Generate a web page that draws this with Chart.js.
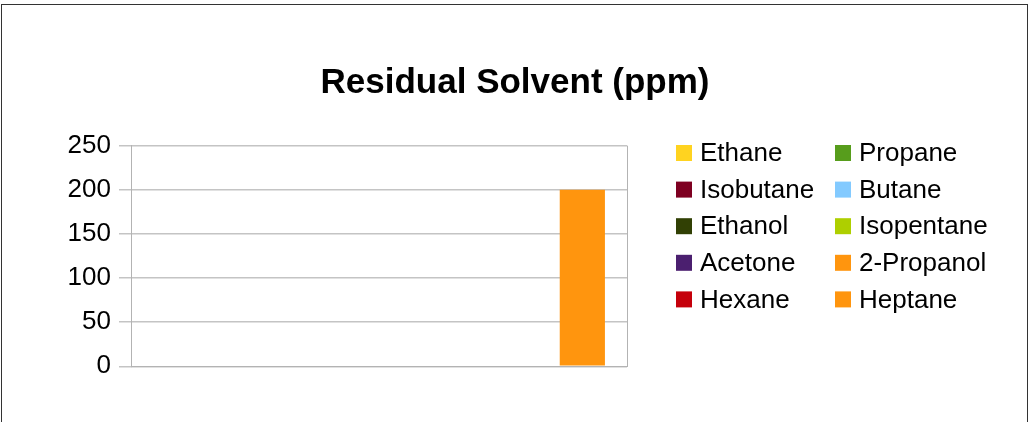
<!DOCTYPE html>
<html><head><meta charset="utf-8">
<script src="https://cdn.jsdelivr.net/npm/chart.js@4.4.0/dist/chart.umd.min.js"></script>
<style>
html,body{margin:0;padding:0;background:#fff;}
#wrap{position:relative;width:1030px;height:422px;overflow:hidden;background:#fff;}
#frame{position:absolute;left:1px;top:4px;width:1025px;height:480px;border:1px solid #333;pointer-events:none;}
canvas{position:absolute;left:0;top:0;}
</style></head><body>
<div id="wrap"><canvas id="c" width="1030" height="422"></canvas><div id="frame"></div></div>
<script>
// ---- data ----
const categories = [''];
const seriesNames = ['Ethane','Propane','Isobutane','Butane','Ethanol','Isopentane','Acetone','2-Propanol','Hexane','Heptane'];
const seriesValues = [0, 0, 0, 0, 0, 0, 0, 0, 0, 200];
const seriesColors = ['#ffd320','#579d1c','#7e0021','#83caff','#314004','#aecf00','#4b1f6f','#ff950e','#c5000b','#ff950e'];
const yTicks = [0, 50, 100, 150, 200, 250];
const titleText = 'Residual Solvent (ppm)';

const FONT = "'Liberation Sans', Arial, sans-serif";

const datasets = seriesNames.map((n, i) => ({
  label: n,
  data: [seriesValues[i]],
  backgroundColor: seriesColors[i],
  borderWidth: 0,
  categoryPercentage: 0.911,
  barPercentage: 1.0
}));

const decorPlugin = {
  id: 'decor',
  afterDraw(chart) {
    const ctx = chart.ctx;
    const ds = chart.data.datasets;
    ctx.save();
    // title, centred on the whole canvas
    ctx.font = 'bold 35px ' + FONT;
    ctx.fillStyle = '#000';
    ctx.textAlign = 'center';
    ctx.textBaseline = 'alphabetic';
    ctx.fillText(titleText, chart.width / 2, 93);
    // legend, two columns, row-major order
    const colX = [676, 835];
    const rowY0 = 153, rowStep = 36.6, box = 16;
    ctx.font = '26px ' + FONT;
    ctx.textBaseline = 'middle';
    ctx.textAlign = 'left';
    ds.forEach((d, i) => {
      const col = i % 2, row = Math.floor(i / 2);
      const x = colX[col], y = rowY0 + row * rowStep;
      ctx.fillStyle = d.backgroundColor;
      ctx.fillRect(x, y - box / 2, box, box);
      ctx.fillStyle = '#000';
      ctx.fillText(d.label, x + 24, y + 1);
    });
    ctx.restore();
  }
};

new Chart(document.getElementById('c'), {
  type: 'bar',
  data: { labels: categories, datasets },
  options: {
    responsive: false,
    animation: false,
    devicePixelRatio: 1,
    layout: { padding: { left: 0, right: 403, top: 145.7, bottom: 55.7 } },
    plugins: {
      legend: { display: false },
      tooltip: { enabled: false },
      title: { display: false }
    },
    scales: {
      x: {
        offset: true,
        grid: { display: true, offset: true, color: '#b3b3b3', drawTicks: false, lineWidth: 1 },
        border: { display: true, color: '#b3b3b3' },
        ticks: { display: false }
      },
      y: {
        min: yTicks[0],
        max: yTicks[yTicks.length - 1],
        afterBuildTicks: s => { s.ticks = yTicks.map(v => ({ value: v })); },
        afterFit: s => { s.width = 131; },
        ticks: { color: '#000', padding: 8, font: { family: FONT, size: 26 } },
        grid: { color: '#c4c4c4', lineWidth: 1.5, tickLength: 12 },
        border: { display: true, color: '#b3b3b3' }
      }
    }
  },
  plugins: [decorPlugin]
});
</script>
</body></html>
